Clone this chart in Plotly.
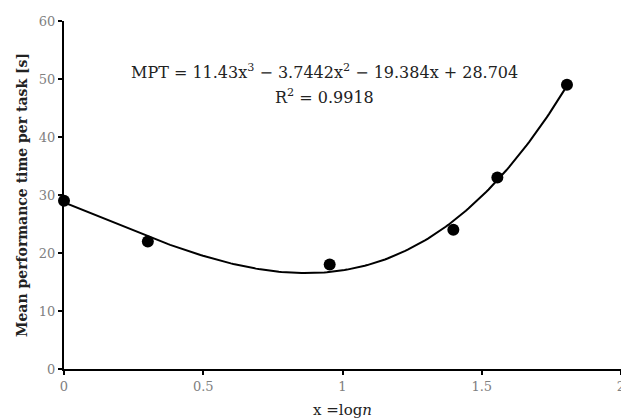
import numpy as np
import plotly.graph_objects as go

# Data
x_vals = [0.0, 0.301, 0.954, 1.398, 1.556, 1.806]
y_vals = [29, 22, 18, 24, 33, 49]
# Cubic trendline coefficients (highest power first), as shown in the chart
coeffs = [11.43, -3.7442, -19.384, 28.704]
r_squared = 0.9918
x_ticks = [0, 0.5, 1, 1.5, 2]
y_ticks = [0, 10, 20, 30, 40, 50, 60]

xs = np.linspace(min(x_vals), max(x_vals), 200)
ys = np.polyval(coeffs, xs)

serif = "DejaVu Serif, serif"

fig = go.Figure()
fig.add_trace(go.Scatter(x=xs, y=ys, mode="lines",
                         line=dict(color="black", width=2), showlegend=False,
                         hoverinfo="skip"))
fig.add_trace(go.Scatter(x=x_vals, y=y_vals, mode="markers", cliponaxis=False,
                         marker=dict(color="black", size=12), showlegend=False))

eq = "MPT = 11.43x<sup>3</sup> − 3.7442x<sup>2</sup> − 19.384x + 28.704"
fig.add_annotation(x=0.937, y=51.3, xref="x", yref="y", text=eq, showarrow=False,
                   font=dict(family=serif, size=16, color="#222"))
fig.add_annotation(x=0.937, y=47.0, xref="x", yref="y",
                   text="R<sup>2</sup> = %.4f" % r_squared, showarrow=False,
                   font=dict(family=serif, size=16, color="#222"))

# Page body has an 8px margin; size the figure so the plot sits where the reference's does
fig.update_layout(
    width=621, height=411,
    margin=dict(l=56, r=8, t=13, b=50),
    paper_bgcolor="white", plot_bgcolor="white",
    font=dict(family=serif),
)
fig.update_xaxes(range=[0, 2], tickvals=x_ticks, ticktext=[str(t) for t in x_ticks],
                 automargin=False,
                 showgrid=False, zeroline=False, showline=True, linecolor="black",
                 linewidth=2, ticks="outside", ticklen=4, tickwidth=2, tickcolor="black",
                 tickfont=dict(family=serif, size=13, color="#808080"),
                 title=dict(text="x =log<i>n</i>", standoff=12,
                            font=dict(family=serif, size=15, color="#222")))
fig.update_yaxes(range=[0, 60], tickvals=y_ticks, automargin=False,
                 showgrid=False, zeroline=False, showline=True, linecolor="black",
                 linewidth=2, ticks="outside", ticklen=4, tickwidth=2, tickcolor="black",
                 tickfont=dict(family=serif, size=13, color="#808080"),
                 title=dict(text="<b>Mean performance time per task [s]</b>", standoff=8,
                            font=dict(family=serif, size=14, color="#222")))

fig.write_html("out.html")
